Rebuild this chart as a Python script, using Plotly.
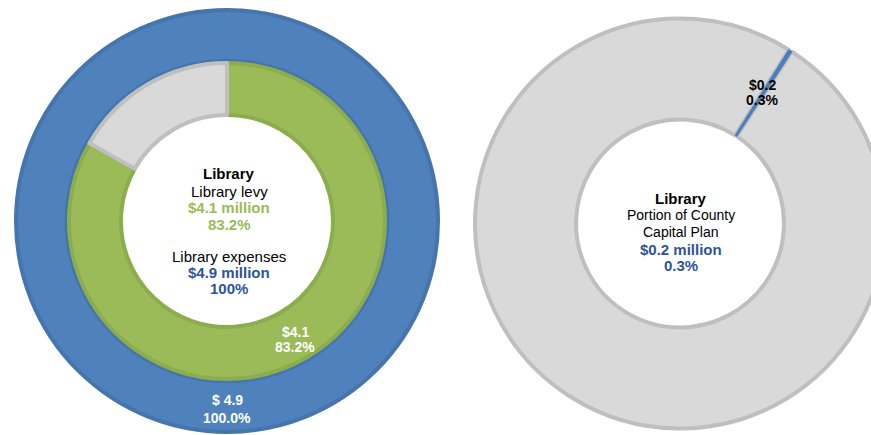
import plotly.graph_objects as go

# ---- data ----
inner_labels = ["Library levy", "Other revenue"]
inner_values = [83.2, 16.8]          # percent of library expenses
inner_amounts = [4.1, 0.8]           # $ million
outer_labels = ["Library expenses"]
outer_values = [100.0]
outer_amounts = [4.9]
capital_labels = ["Other County capital projects", "Library"]
capital_values = [99.7, 0.3]
capital_amounts = [0.2]

W, H = 887, 435
FONT = "Liberation Sans, Arial, sans-serif"

BLUE, BLUE_LINE = "#4f81bd", "#4674ad"
GREEN, GREEN_LINE = "#9bbb59", "#8cad4d"
GRAY, GRAY_LINE = "#d9d9d9", "#bfbfbf"
GREEN_TXT, BLUE_TXT = "#9bbb59", "#2f5597"


def dom(cx, cy, r):
    return dict(x=[(cx - r) / W, (cx + r) / W], y=[1 - (cy + r) / H, 1 - (cy - r) / H])


fig = go.Figure()
# outer ring: library expenses
fig.add_trace(go.Pie(
    labels=outer_labels, values=outer_values, hole=0.76, sort=False,
    direction="clockwise", rotation=0, textinfo="none", hoverinfo="label+value",
    marker=dict(colors=[BLUE], line=dict(color=BLUE_LINE, width=4)),
    domain=dom(227, 221, 211), showlegend=False))
# inner ring: library levy share
fig.add_trace(go.Pie(
    labels=inner_labels, values=inner_values, hole=0.671, sort=False,
    direction="clockwise", rotation=0, textinfo="none", hoverinfo="label+value",
    marker=dict(colors=[GREEN, GRAY], line=dict(color=[GREEN_LINE, GRAY_LINE], width=4)),
    domain=dom(227, 221, 158), showlegend=False))
# right: portion of county capital plan
fig.add_trace(go.Pie(
    labels=capital_labels, values=capital_values, hole=0.507, sort=False,
    direction="clockwise", rotation=33.1, textinfo="none", hoverinfo="label+value",
    marker=dict(colors=[GRAY, "#4a7ebb"], line=dict(color=[GRAY_LINE, "#4a7ebb"], width=[4, 1])),
    domain=dom(680, 223.5, 205), showlegend=False))


def ann(x, y, text, color="#000000", size=15, bold=False):
    t = f"<b>{text}</b>" if bold else text
    fig.add_annotation(x=x / W, y=1 - y / H, xref="paper", yref="paper", text=t,
                       showarrow=False, xanchor="center", yanchor="middle",
                       font=dict(family=FONT, size=size, color=color))


# left centre text
ann(229, 173, "Library", bold=True)
ann(229, 191, inner_labels[0])
ann(229, 207, f"${inner_amounts[0]} million", GREEN_TXT, bold=True)
ann(229, 224, f"{inner_values[0]}%", GREEN_TXT, bold=True)
ann(229, 256, outer_labels[0])
ann(229, 272, f"${outer_amounts[0]} million", BLUE_TXT, bold=True)
ann(229, 288, f"{outer_values[0]:.0f}%", BLUE_TXT, bold=True)

# ring labels
ann(295, 332, f"${inner_amounts[0]}", "white", 14, True)
ann(295, 347, f"{inner_values[0]}%", "white", 14, True)
ann(227, 400, f"$ {outer_amounts[0]}", "white", 14, True)
ann(227, 418, f"{outer_values[0]:.1f}%", "white", 14, True)

# right centre text
ann(681, 199, "Library", bold=True)
ann(681, 215, "Portion of County", size=14)
ann(681, 232, "Capital Plan", size=14)
ann(681, 249, f"${capital_amounts[0]} million", BLUE_TXT, bold=True)
ann(681, 265, f"{capital_values[1]}%", BLUE_TXT, bold=True)

# right slice label
ann(762, 85, f"${capital_amounts[0]}", "#000000", 14, True)
ann(762, 100, f"{capital_values[1]}%", "#000000", 14, True)

fig.update_layout(width=W, height=H, margin=dict(l=0, r=0, t=0, b=0),
                  paper_bgcolor="white", plot_bgcolor="white", showlegend=False)

fig.write_html("out.html",
               post_script="document.documentElement.style.overflow='hidden';document.body.style.overflow='hidden';")
